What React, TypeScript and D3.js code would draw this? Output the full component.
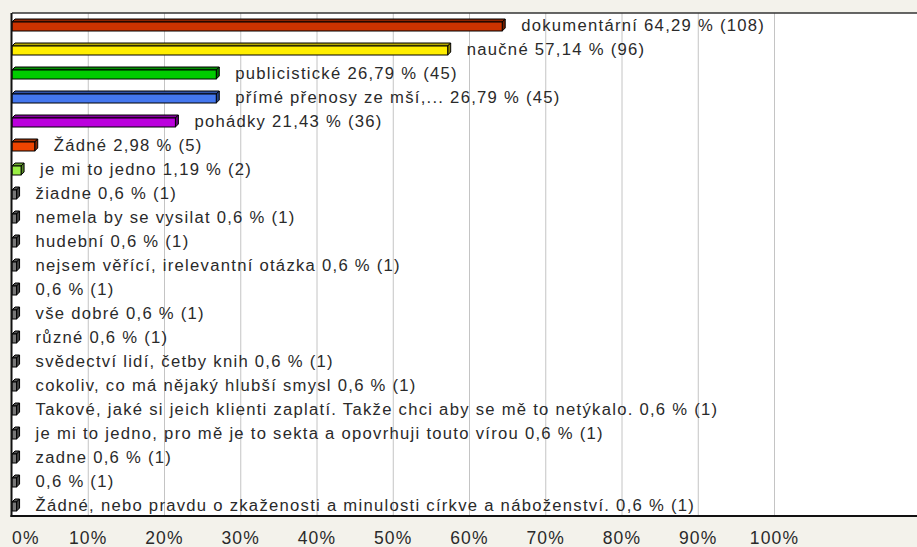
import React from "react";
import * as d3 from "d3";

const categories: string[] = [
  "dokumentární",
  "naučné",
  "publicistické",
  "přímé přenosy ze mší,...",
  "pohádky",
  "Žádné",
  "je mi to jedno",
  "žiadne",
  "nemela by se vysilat",
  "hudební",
  "nejsem věřící, irelevantní otázka",
  "",
  "vše dobré",
  "různé",
  "svědectví lidí, četby knih",
  "cokoliv, co má nějaký hlubší smysl",
  "Takové, jaké si jeich klienti zaplatí. Takže chci aby se mě to netýkalo.",
  "je mi to jedno, pro mě je to sekta a opovrhuji touto vírou",
  "zadne",
  "",
  "Žádné, nebo pravdu o zkaženosti a minulosti církve a náboženství.",
];
const percents: number[] = [64.29, 57.14, 26.79, 26.79, 21.43, 2.98, 1.19, 0.6, 0.6, 0.6, 0.6, 0.6, 0.6, 0.6, 0.6, 0.6, 0.6, 0.6, 0.6, 0.6, 0.6];
const counts: number[] = [108, 96, 45, 45, 36, 5, 2, 1, 1, 1, 1, 1, 1, 1, 1, 1, 1, 1, 1, 1, 1];
const barColors: string[] = ["#cc3300", "#ffee00", "#00cc00", "#4477ee", "#bb00dd", "#ee4400", "#99ee44"];
const smallColor = "#777777";
const ticks: number[] = [0, 10, 20, 30, 40, 50, 60, 70, 80, 90, 100];

const W = 917;
const H = 547;
const left = 12;
const top = 13;
const bottom = 517;
const depth = 3;

export default function App() {
  const x = d3.scaleLinear().domain([0, 100]).range([left, 774.5]);
  const y = d3.scaleBand<number>().domain(d3.range(categories.length)).range([top, bottom]);
  const bw = y.bandwidth();
  const fmt = (v: number) => String(v).replace(".", ",");
  const font = "'Liberation Sans', Arial, sans-serif";

  return (
    <svg width={W} height={H} style={{ position: "fixed", left: 0, top: 0 }}>
      <rect x={0} y={0} width={W} height={H} fill="#f3f2eb" />
      <rect x={left} y={top} width={W - left + 5} height={bottom - top} fill="#ffffff" />
      {ticks.filter((t) => t > 0).map((t) => (
        <line key={t} x1={x(t)} x2={x(t)} y1={top} y2={bottom} stroke="#c4c4c4" strokeWidth={1} />
      ))}
      {categories.map((c, i) => {
        const cy = (y(i) as number) + bw / 2;
        const x0 = x(0);
        const x1 = x(percents[i]);
        const fy = cy - 3;
        const fh = 9;
        const base = barColors[i] || smallColor;
        const topCol = d3.color(base)!.darker(1).formatHex();
        const sideCol = d3.color(base)!.darker(1.6).formatHex();
        const label = (c ? c + " " : "") + `${fmt(percents[i])} % (${counts[i]})`;
        return (
          <g key={i}>
            <path
              d={`M${x0},${fy} L${x0 + depth},${fy - depth} L${x1 + depth},${fy - depth} L${x1},${fy} Z`}
              fill={topCol}
              stroke="#000"
              strokeWidth={1}
              strokeLinejoin="round"
            />
            <path
              d={`M${x1},${fy} L${x1 + depth},${fy - depth} L${x1 + depth},${fy + fh - depth} L${x1},${fy + fh} Z`}
              fill={sideCol}
              stroke="#000"
              strokeWidth={1}
              strokeLinejoin="round"
            />
            <rect x={x0} y={fy} width={x1 - x0} height={fh} fill={base} stroke="#000" strokeWidth={1} />
            <text
              x={x1 + 19}
              y={cy + 6}
              fontFamily={font}
              fontSize={16.65}
              letterSpacing={1.27}
              fill="#2a2a2a"
            >
              {label}
            </text>
          </g>
        );
      })}
      <line x1={left} x2={W} y1={top} y2={top} stroke="#333" strokeWidth={1.5} />
      <line x1={left - 0.5} x2={left - 0.5} y1={top} y2={bottom} stroke="#111" strokeWidth={2} />
      <line x1={left - 1.5} x2={W} y1={bottom - 1} y2={bottom - 1} stroke="#111" strokeWidth={2} />
      {ticks.map((t, i) => (
        <text
          key={t}
          x={x(t)}
          y={544}
          textAnchor={i === 0 ? "start" : "middle"}
          fontFamily={font}
          fontSize={17.5}
          letterSpacing={1.2}
          fill="#2a2a2a"
        >
          {t}%
        </text>
      ))}
    </svg>
  );
}
